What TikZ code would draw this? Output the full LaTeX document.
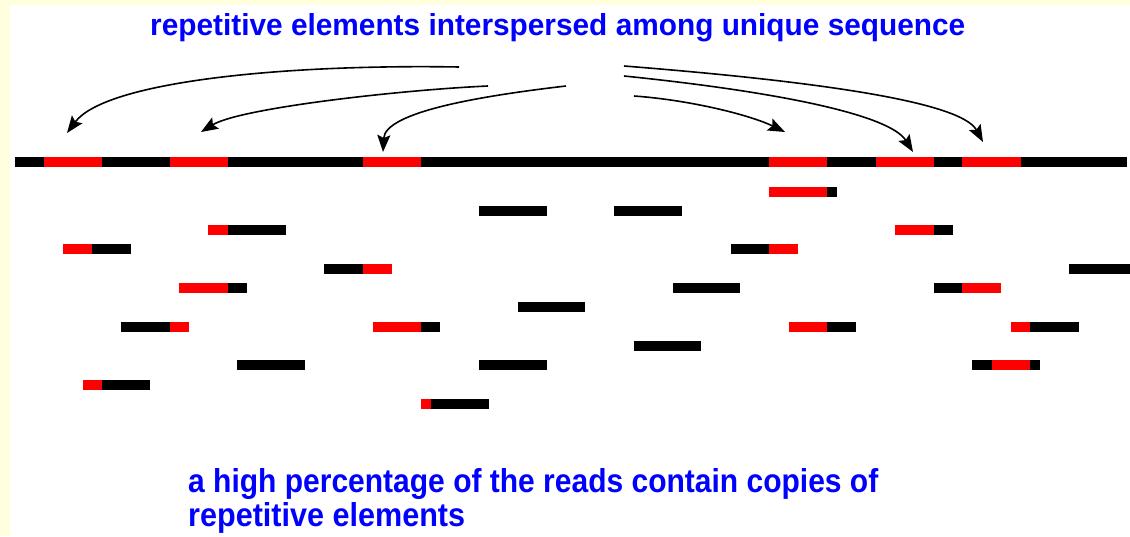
\documentclass[tikz,border=0pt]{standalone}
\usepackage{fontspec}
\setmainfont{Liberation Sans}
\usepackage{graphicx}
\usetikzlibrary{arrows.meta}
\definecolor{bgyellow}{RGB}{255,255,221}
\definecolor{repred}{RGB}{255,0,0}
\definecolor{txtblue}{RGB}{0,0,255}
\tikzset{
  uniq/.style={fill=black},
  rep/.style={fill=repred},
  ptr/.style={line width=1.6pt, -{Stealth[length=17pt,width=13pt,inset=3pt]}},
  label/.style={anchor=base west, inner sep=0pt, text=txtblue, font=\bfseries}
}
\begin{document}
\begin{tikzpicture}[x=1pt,y=-1pt]
\useasboundingbox (0,0) rectangle (1130,536);
\fill[bgyellow] (0,0) rectangle (1130,536);
\fill[white] (10,5) rectangle (1130,536);

% title and caption
\node[label] (title) at (150,35) {\resizebox{815pt}{22pt}{repetitive elements interspersed among unique sequence}};
\node[label] (cap1) at (188,492) {\resizebox{690pt}{24pt}{a high percentage of the reads contain copies of}};
\node[label] (cap2) at (188,526) {\resizebox{277pt}{24pt}{repetitive elements}};

% genome line
\fill[uniq] (15,157) rectangle (1127,166.5);
\foreach \a/\b in {44/102,170/228,363/421,769/827,876/934,962/1021}
  \fill[rep] (\a,157) rectangle (\b,166.5);

% reads: black parts
\foreach \a/\b/\y in {827/837/187, 479/547/206, 614/682/206, 228/286/225, 934/953/225,
  92/131/244, 731/769/244, 324/363/264, 1069/1130/264, 228/247/283, 673/740/283,
  934/962/283, 518/585/302, 121/170/322, 421/440/322, 827/856/322, 1030/1079/322,
  634/701/341, 237/305/360, 479/547/360, 972/992/360, 1030/1040/360, 102/150/380,
  431/489/399}
  \fill[uniq] (\a,\y) rectangle (\b,\y+9.5);
% reads: red parts
\foreach \a/\b/\y in {769/827/187, 208/228/225, 895/934/225, 63/92/244, 769/798/244,
  363/392/264, 179/228/283, 962/1001/283, 170/189/322, 373/421/322, 789/827/322,
  1011/1030/322, 992/1030/360, 83/102/380, 421/431/399}
  \fill[rep] (\a,\y) rectangle (\b,\y+9.5);

% arrow ends
\coordinate (s1) at (459,67);  \coordinate (e1) at (67,133);
\coordinate (s2) at (488,86);  \coordinate (e2) at (201,132);
\coordinate (s3) at (566,86);  \coordinate (e3) at (383,152);
\coordinate (s4) at (624,66);  \coordinate (e4) at (983,142);
\coordinate (s5) at (624,76);  \coordinate (e5) at (913,152);
\coordinate (s6) at (634,96);  \coordinate (e6) at (785,132);

\draw[ptr] (s1) .. controls (280,64) and (105,82) .. (e1);
\draw[ptr] (s2) .. controls (400,90) and (240,108) .. (e2);
\draw[ptr] (s3) .. controls (480,96) and (385,112) .. (e3);
\draw[ptr] (s4) .. controls (800,80) and (960,100) .. (e4);
\draw[ptr] (s5) .. controls (780,92) and (890,115) .. (e5);
\draw[ptr] (s6) .. controls (690,100) and (750,115) .. (e6);
\end{tikzpicture}
\end{document}
